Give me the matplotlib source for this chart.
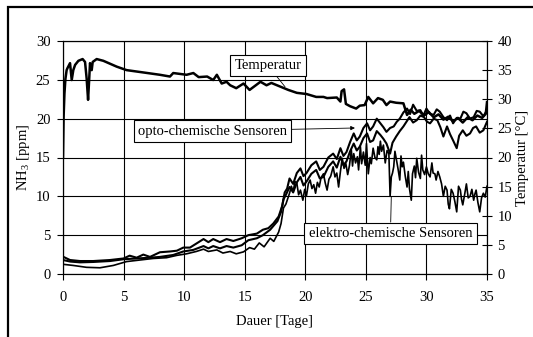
import matplotlib
matplotlib.use('Agg')
import matplotlib.pyplot as plt
from matplotlib.patches import Rectangle

plt.rcParams['font.family'] = ['Liberation Serif', 'DejaVu Serif']
plt.rcParams['font.size'] = 10.5
plt.rcParams['mathtext.fontset'] = 'custom'
plt.rcParams['mathtext.rm'] = 'Liberation Serif'

# Temperatur [°C] (right axis)
temp_days = [0.0, 0.05, 0.12, 0.2, 0.3, 0.36, 0.58, 0.72, 0.85, 1.0, 1.27, 1.62, 1.82, 1.95,
             2.07, 2.15, 2.23, 2.37, 2.45, 2.78, 3.33, 4.43, 5.25, 6.63, 8.0, 8.83, 9.1,
             10.2, 10.76, 11.2, 11.9, 12.4, 12.7, 13.1, 13.5, 13.8, 14.3, 14.9, 15.4, 16.3,
             16.8, 17.2, 17.9, 18.6, 19.3, 20.1, 20.9, 21.5, 21.8, 22.6, 22.9, 23.0, 23.2,
             23.35, 23.7, 24.2, 24.5, 24.9, 25.2, 25.6, 26.0, 26.4, 26.7, 27.0, 27.5, 28.1,
             28.4, 28.7, 29.0, 29.4, 29.8, 30.2, 30.6, 31.0, 31.4, 31.8, 32.2, 32.6, 33.0,
             33.4, 33.8, 34.2, 34.6, 34.9, 35.0]
temp_vals = [20.0, 27.0, 31.0, 33.5, 35.0, 35.3, 36.2, 33.3, 35.0, 35.9, 36.6, 36.9, 36.4, 33.6,
             29.9, 33.0, 36.2, 35.0, 36.4, 36.9, 36.6, 35.6, 35.0, 34.6, 34.2, 33.9, 34.5,
             34.2, 34.5, 33.8, 33.9, 33.3, 34.2, 32.7, 33.0, 32.4, 31.9, 32.7, 31.6, 33.0,
             32.4, 32.8, 32.2, 31.6, 31.1, 30.9, 30.4, 30.4, 30.2, 30.3, 29.6, 31.4, 31.7,
             29.2, 28.8, 28.4, 28.9, 29.0, 30.4, 29.3, 30.2, 29.9, 29.0, 29.6, 29.4, 29.3,
             27.3, 28.2, 27.5, 28.0, 27.2, 27.8, 26.9, 27.4, 26.5, 27.0, 26.2, 26.8, 26.0,
             26.9, 26.4, 27.2, 26.8, 27.5, 29.5]

# opto-chemische Sensoren [ppm]
opto1_days = [0.0, 0.58, 1.4, 2.5, 3.88, 5.0, 5.5, 6.08, 6.63, 7.18, 8.0, 8.83, 9.4, 9.93,
              10.48, 11.04, 11.6, 12.0, 12.4, 12.96, 13.5, 14.06, 14.75, 15.3, 16.0, 16.5,
              16.95, 17.36, 17.8, 18.1, 18.3, 18.5, 18.7, 19.0, 19.3, 19.6, 19.85, 20.1, 20.5,
              20.9, 21.2, 21.5, 21.9, 22.3, 22.6, 22.9, 23.15, 23.4, 23.7, 24.0, 24.25, 24.5,
              24.8, 25.1, 25.35, 25.6, 25.9, 26.2, 26.45, 26.7, 27.0, 27.3, 27.55, 27.8, 28.1,
              28.4, 28.65, 28.9, 29.2, 29.5, 29.75, 30.0, 30.3, 30.6, 30.85, 31.1, 31.4, 31.7,
              31.95, 32.2, 32.5, 32.8, 33.05, 33.3, 33.6, 33.9, 34.15, 34.4, 34.7, 35.0]
opto1_vals = [2.23, 1.8, 1.67, 1.67, 1.8, 2.0, 2.36, 2.1, 2.5, 2.2, 2.8, 2.9, 3.0, 3.4,
              3.4, 3.95, 4.5, 4.1, 4.5, 4.1, 4.5, 4.25, 4.6, 5.0, 5.2, 5.7,
              5.9, 6.5, 7.4, 8.8, 10.5, 11.0, 12.3, 11.6, 13.0, 13.6, 12.6, 13.0, 14.0,
              14.5, 13.4, 13.8, 15.0, 15.5, 14.8, 16.2, 15.2, 15.7, 17.0, 18.1, 17.2, 17.7,
              18.8, 19.4, 18.5, 19.0, 20.0, 19.4, 18.9, 18.3, 18.8, 19.0, 19.6, 20.0, 20.8,
              21.3, 20.6, 21.8, 21.0, 21.1, 20.4, 21.3, 20.6, 20.5, 21.2, 20.9, 20.2, 19.8,
              20.4, 19.4, 20.1, 20.0, 20.9, 20.7, 20.0, 20.2, 21.0, 20.9, 20.3, 21.1]

opto2_days = [0.0, 0.6, 1.4, 2.5, 3.88, 5.0, 6.08, 7.2, 8.0, 9.1, 9.93, 10.75, 11.6, 12.0,
              12.4, 12.96, 13.5, 14.06, 14.75, 15.3, 16.0, 16.5, 17.1, 17.7, 18.0, 18.2, 18.4,
              18.7, 19.0, 19.3, 19.6, 19.85, 20.1, 20.5, 20.9, 21.2, 21.5, 21.9, 22.3, 22.6,
              22.9, 23.15, 23.4, 23.7, 24.0, 24.25, 24.5, 24.8, 25.1, 25.35, 25.6, 25.9, 26.2,
              26.45, 26.7, 27.0, 27.2, 27.5, 27.8, 28.1, 28.35, 28.6, 28.9, 29.2, 29.5, 29.8,
              30.05, 30.3, 30.6, 30.9, 31.15, 31.4, 31.7, 31.95, 32.2, 32.5, 32.7, 33.0, 33.3,
              33.6, 33.85, 34.1, 34.4, 34.7, 35.0]
opto2_vals = [1.8, 1.6, 1.5, 1.55, 1.67, 1.9, 2.0, 2.1, 2.2, 2.45, 2.9, 3.1, 3.6, 3.3,
              3.6, 3.3, 3.6, 3.4, 3.7, 4.35, 4.6, 5.0, 5.7, 6.8, 8.0, 9.6, 10.2,
              11.2, 10.5, 11.8, 12.5, 11.4, 11.9, 12.9, 13.4, 12.3, 12.5, 13.8, 14.5, 13.7,
              15.1, 14.0, 14.5, 15.8, 16.8, 15.9, 16.4, 17.5, 18.1, 17.0, 17.2, 18.4, 17.9,
              17.4, 16.8, 15.5, 16.9, 17.7, 18.4, 19.0, 19.6, 20.2, 19.5, 19.8, 20.4, 20.2,
              19.6, 19.4, 20.0, 19.8, 18.9, 17.7, 19.0, 18.0, 17.2, 16.2, 17.8, 18.5, 17.8,
              18.1, 18.8, 19.0, 18.2, 18.5, 19.6]

# elektro-chemische Sensoren [ppm]
elektro_days = [0.0, 0.85, 1.94, 3.05, 4.15, 5.25, 6.35, 7.45, 8.55, 9.4, 10.2, 11.0, 11.6,
                12.0, 12.7, 13.2, 13.8, 14.3, 14.9, 15.4, 15.8, 16.2, 16.6, 17.1, 17.4, 17.8,
                18.0, 18.2, 18.4, 18.7, 18.85, 19.0, 19.15, 19.3, 19.45, 19.6, 19.8, 19.95,
                20.1, 20.25, 20.4, 20.55, 20.7, 20.85, 21.0, 21.15, 21.3, 21.5, 21.65, 21.8,
                21.95, 22.1, 22.3, 22.45, 22.6, 22.75, 22.9, 23.05, 23.2, 23.35, 23.5, 23.65,
                23.8, 23.9, 24.0, 24.15, 24.3, 24.4, 24.55, 24.65, 24.8, 24.95, 25.05, 25.2,
                25.35, 25.45, 25.6, 25.75, 25.9, 26.0, 26.1, 26.2, 26.3, 26.45, 26.6, 26.75,
                26.9, 27.0, 27.1, 27.2, 27.3, 27.4, 27.5, 27.65, 27.8, 27.9, 28.0, 28.1, 28.25,
                28.4, 28.5, 28.6, 28.75, 28.85, 29.0, 29.1, 29.2, 29.35, 29.5, 29.6, 29.7,
                29.85, 30.0, 30.15, 30.3, 30.45, 30.55, 30.7, 30.8, 30.95, 31.1, 31.25, 31.4,
                31.55, 31.7, 31.8, 31.9, 32.05, 32.2, 32.35, 32.5, 32.65, 32.8, 32.9, 33.0,
                33.15, 33.3, 33.45, 33.6, 33.75, 33.9, 34.0, 34.1, 34.25, 34.4, 34.55, 34.7,
                34.85, 35.0]
elektro_vals = [1.25, 1.1, 0.86, 0.8, 1.1, 1.6, 1.8, 2.0, 2.1, 2.4, 2.6, 2.9, 3.2,
                2.9, 3.1, 2.7, 2.9, 2.6, 2.85, 3.4, 3.2, 4.0, 3.5, 4.6, 4.2, 5.4,
                6.5, 8.5, 9.0, 10.4, 11.3, 10.6, 11.9, 11.7, 10.2, 10.8, 9.5, 10.9,
                10.1, 11.6, 12.1, 11.0, 11.5, 10.4, 11.8, 11.2, 12.4, 12.9, 11.7, 10.8,
                12.2, 12.6, 13.8, 12.5, 13.0, 11.2, 13.2, 14.9, 13.6, 14.2, 12.8, 14.0,
                16.0, 13.9, 15.5, 14.3, 15.1, 13.4, 16.4, 14.2, 15.7, 14.0, 16.8, 12.9,
                15.0, 14.2, 16.2, 15.0, 14.7, 16.4, 15.4, 17.1, 15.8, 16.6, 14.3, 15.9,
                15.5, 10.0, 12.5, 13.0, 13.8, 15.8, 14.9, 13.6, 12.1, 15.2, 13.8, 14.4, 12.6,
                11.2, 13.2, 11.0, 9.5, 12.9, 13.9, 12.4, 14.9, 13.1, 12.3, 15.3, 13.4,
                12.8, 13.8, 12.9, 12.5, 14.3, 13.0, 12.9, 12.1, 13.2, 12.5, 11.6, 10.0,
                11.3, 10.8, 9.0, 8.4, 10.9, 10.4, 9.3, 8.0, 11.3, 10.8, 9.6, 8.9,
                10.2, 11.6, 9.8, 10.0, 10.9, 9.5, 10.3, 10.8, 9.2, 8.0, 9.8, 10.4,
                9.9, 11.3]

fig = plt.figure(figsize=(5.33, 3.37), dpi=100)
ax = fig.add_axes([63 / 533, 1 - 274 / 337, 424 / 533, 233 / 337])
ax2 = ax.twinx()

# outer frame
fig.patches.append(Rectangle((8 / 533, -0.1), 1.2, 1 - 7 / 337 + 0.1, transform=fig.transFigure,
                             fill=False, ec='black', lw=1.6))

ax.plot(opto1_days, opto1_vals, color='black', lw=1.5)
ax.plot(opto2_days, opto2_vals, color='black', lw=1.5)
ax.plot(elektro_days, elektro_vals, color='black', lw=1.2)
ax2.plot(temp_days, temp_vals, color='black', lw=1.8)

ax.set_xlim(0, 35)
ax.set_ylim(0, 30)
ax2.set_ylim(0, 40)
ax.set_xticks(range(0, 36, 5))
ax.set_yticks(range(0, 31, 5))
ax2.set_yticks(range(0, 41, 5))
ax.grid(True, color='black', lw=0.8)
ax.set_axisbelow(True)

for a in (ax, ax2):
    for s in a.spines.values():
        s.set_linewidth(0.8)
ax.tick_params(axis='both', direction='out', length=4, width=0.8, labelsize=10.5)
ax.tick_params(axis='x', pad=8)
ax.tick_params(axis='y', pad=5)
ax2.tick_params(axis='y', direction='inout', length=7, width=0.8, labelsize=10.5, pad=4)

ax.set_xlabel('Dauer [Tage]', labelpad=8)
ax.set_ylabel(r'NH$_\mathregular{3}$ [ppm]', labelpad=3)
ax2.set_ylabel('Temperatur [°C]', labelpad=3)

box = dict(boxstyle='square,pad=0.3', fc='white', ec='black', lw=0.8)
ax2.annotate('Temperatur', xy=(18.33, 24.1), xycoords=ax.transData,
             xytext=(16.92, 26.85), textcoords=ax.transData, ha='center', va='center',
             bbox=box, arrowprops=dict(arrowstyle='-', color='black', lw=0.6,
                                       shrinkA=0, shrinkB=0), zorder=5)
ax2.annotate('opto-chemische Sensoren', xy=(24.1, 18.8), xycoords=ax.transData,
             xytext=(12.34, 18.41), textcoords=ax.transData, ha='center', va='center',
             bbox=box, arrowprops=dict(arrowstyle='-|>', color='black', lw=0.6,
                                       mutation_scale=6, shrinkA=0, shrinkB=0), zorder=5)
ax2.annotate('elektro-chemische Sensoren', xy=(27.1, 9.95), xycoords=ax.transData,
             xytext=(27.03, 5.23), textcoords=ax.transData, ha='center', va='center',
             bbox=box, arrowprops=dict(arrowstyle='-', color='black', lw=0.6,
                                       shrinkA=0, shrinkB=0), zorder=5)

fig.savefig('out.png', dpi=100)
